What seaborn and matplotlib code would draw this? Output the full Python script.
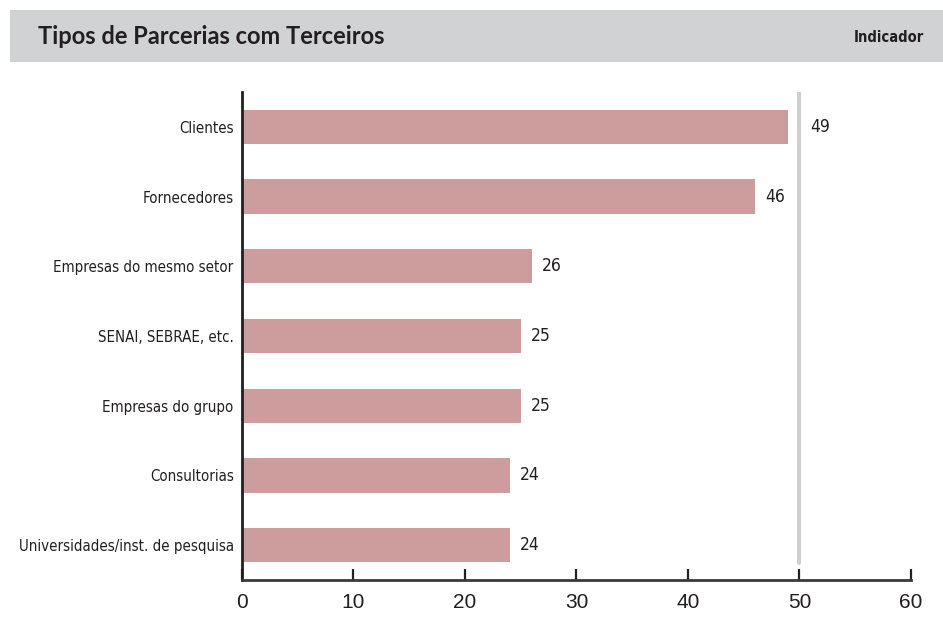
import matplotlib
matplotlib.use("Agg")
import matplotlib.pyplot as plt
from matplotlib.patches import Rectangle
from matplotlib.font_manager import FontProperties
import seaborn as sns
import pandas as pd

categories = [
    "Clientes",
    "Fornecedores",
    "Empresas do mesmo setor",
    "SENAI, SEBRAE, etc.",
    "Empresas do grupo",
    "Consultorias",
    "Universidades/inst. de pesquisa",
]
values = [49, 46, 26, 25, 25, 24, 24]
x_ticks = [0, 10, 20, 30, 40, 50, 60]
reference_value = 50

title = "Tipos de Parcerias com Terceiros"
tag = "Indicador"

bar_color = "#cd9d9e"
text_color = "#231f20"
band_color = "#d1d2d4"


def narrow(size, weight="normal"):
    return FontProperties(family="DejaVu Sans", stretch="condensed",
                          size=size, weight=weight)


sns.set_theme(style="white")
plt.rcParams["font.family"] = ["DejaVu Sans"]

df = pd.DataFrame({"categoria": categories, "valor": values})

fig = plt.figure(figsize=(9.43, 6.38), dpi=100)
W, H = 943, 638
ax = fig.add_axes([242 / W, 1 - 580 / H, (911 - 242) / W, (580 - 92) / H])

sns.barplot(data=df, y="categoria", x="valor", orient="h", color=bar_color,
            width=0.49, saturation=1, ax=ax, edgecolor="none")

ax.set_xlim(x_ticks[0], x_ticks[-1])
ax.set_ylim(len(categories) - 0.5, -0.5)
ax.set_xlabel("")
ax.set_ylabel("")

# reference line at 50
ax.axvline(reference_value, ymin=0.035, ymax=1, color="#cfcfcf", lw=3, zorder=0)

# value labels at the end of each bar, stepping past the reference line
for i, v in enumerate(values):
    lx = reference_value if v > reference_value - 1.5 else v
    ax.annotate(str(v), xy=(lx, i), xytext=(7.5, 0), textcoords="offset points",
                ha="left", va="center", color=text_color,
                fontproperties=narrow(12.5))

for s in ["top", "right"]:
    ax.spines[s].set_visible(False)
ax.spines["left"].set_color(text_color)
ax.spines["left"].set_linewidth(2)
ax.spines["bottom"].set_color("#3a3a3a")
ax.spines["bottom"].set_linewidth(2)

ax.set_xticks(x_ticks)
ax.set_xticklabels([str(t) for t in x_ticks], color=text_color)
for lab in ax.get_xticklabels():
    lab.set_fontproperties(FontProperties(family="Liberation Sans", size=15))
ax.tick_params(axis="x", direction="in", length=8, width=1.6, color=text_color,
               pad=9, bottom=True)
ax.tick_params(axis="y", length=0, pad=6)
for lab in ax.get_yticklabels():
    lab.set_fontproperties(narrow(10.8))
    lab.set_color(text_color)

# header band
fig.patches.append(Rectangle((10 / W, 1 - 62 / H), (W - 10) / W, 52 / H,
                             transform=fig.transFigure, facecolor=band_color,
                             edgecolor="none", zorder=0))
fig.text(38 / W, 1 - 36 / H, title, ha="left", va="center", fontsize=17,
         fontweight="bold", color=text_color, family=["Lato", "DejaVu Sans"])
fig.text(924 / W, 1 - 37 / H, tag, ha="right", va="center", color=text_color,
         fontproperties=narrow(10.5, "bold"))

fig.savefig("out.png", dpi=100, facecolor="white")
